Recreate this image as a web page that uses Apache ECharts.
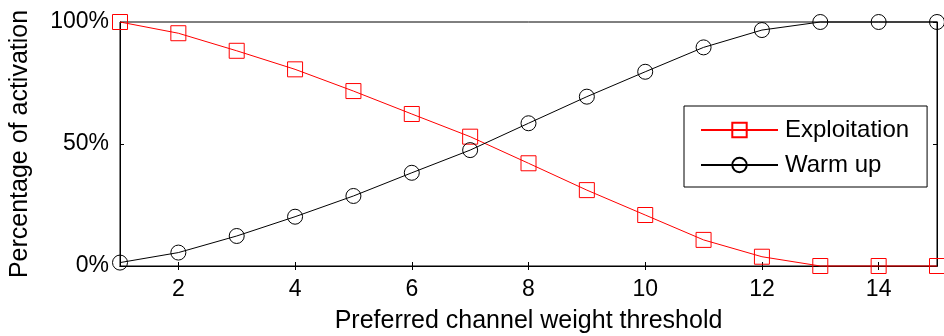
<!DOCTYPE html>
<html>
<head>
<meta charset="utf-8">
<script src="https://cdn.jsdelivr.net/npm/echarts@6/dist/echarts.min.js"></script>
<style>
  html, body { margin: 0; padding: 0; background: #fff; }
  #chart { width: 944px; height: 336px; }
</style>
</head>
<body>
<div id="chart"></div>
<script>
// Channel weight thresholds on the x axis
const thresholds = [1, 2, 3, 4, 5, 6, 7, 8, 9, 10, 11, 12, 13, 14, 15];
// Share of activations (%) per threshold
const exploitation = [100, 95.4, 88.2, 80.6, 71.7, 62.3, 53, 42.1, 31.1, 20.9, 10.7, 3.8, 0, 0, 0];
const warmUp = [1.4, 5.5, 12.3, 20.2, 28.7, 38.2, 47.5, 58.5, 69.4, 79.6, 89.6, 96.7, 100, 100, 100];
const seriesNames = ['Exploitation', 'Warm up'];
const xTicks = [2, 4, 6, 8, 10, 12, 14];
const yTicks = [0, 50, 100];

const FONT = 'Liberation Sans, Arial, Helvetica, sans-serif';

const pairs = arr => thresholds.map((x, i) => [x, arr[i]]);

const chart = echarts.init(document.getElementById('chart'), null, { renderer: 'canvas' });

const tickStyle = { show: true, inside: true, length: 4, lineStyle: { color: '#000', width: 1 } };

chart.setOption({
  animation: false,
  backgroundColor: '#fff',
  grid: {
    left: 120, right: 7, top: 22, bottom: 70,
    outerBoundsMode: 'none',
    show: true, borderColor: '#000', borderWidth: 1, backgroundColor: 'transparent'
  },
  legend: {
    orient: 'vertical',
    left: 684, top: 106,
    padding: [12, 18, 10, 16],
    itemWidth: 77, itemHeight: 18, itemGap: 11,
    borderColor: '#000', borderWidth: 1,
    backgroundColor: '#fff',
    textStyle: { fontFamily: FONT, fontSize: 24, color: '#000', padding: [0, 0, 0, 2] },
    data: seriesNames
  },
  xAxis: [{
    type: 'value', min: 1, max: 15,
    name: 'Preferred channel weight threshold',
    nameLocation: 'middle', nameGap: 43,
    nameTextStyle: { fontFamily: FONT, fontSize: 25, color: '#000' },
    axisLine: { show: true, lineStyle: { color: '#000' } },
    axisLabel: {
      fontFamily: FONT, fontSize: 23, color: '#000', margin: 12,
      customValues: xTicks
    },
    axisTick: Object.assign({ customValues: xTicks }, tickStyle),
    splitLine: { show: false }
  }, {
    type: 'value', min: 1, max: 15, position: 'top',
    axisLine: { show: true, lineStyle: { color: '#000' } },
    axisTick: Object.assign({ customValues: xTicks }, tickStyle),
    axisLabel: { show: false },
    splitLine: { show: false }
  }],
  yAxis: [{
    type: 'value', min: 0, max: 100, interval: 50,
    name: 'Percentage of activation',
    nameLocation: 'middle', nameGap: 87,
    nameTextStyle: { fontFamily: FONT, fontSize: 25, color: '#000' },
    axisLine: { show: true, lineStyle: { color: '#000' } },
    axisTick: Object.assign({ customValues: yTicks }, tickStyle),
    axisLabel: {
      fontFamily: FONT, fontSize: 23, color: '#000', margin: 11,
      customValues: yTicks,
      formatter: v => v + '%'
    },
    splitLine: { show: false }
  }, {
    type: 'value', min: 0, max: 100, interval: 50, position: 'right',
    axisLine: { show: true, lineStyle: { color: '#000' } },
    axisTick: Object.assign({ customValues: yTicks }, tickStyle),
    axisLabel: { show: false },
    splitLine: { show: false }
  }],
  series: [{
    name: seriesNames[0],
    type: 'line',
    data: pairs(exploitation),
    symbol: 'rect', symbolSize: 15,
    clip: false,
    lineStyle: { color: '#ff0000', width: 1 },
    itemStyle: { color: 'rgba(255,255,255,0)', borderColor: '#ff0000', borderWidth: 1 },
    z: 3
  }, {
    name: seriesNames[1],
    type: 'line',
    data: pairs(warmUp),
    symbol: 'circle', symbolSize: 15,
    clip: false,
    lineStyle: { color: '#000', width: 1 },
    itemStyle: { color: 'rgba(255,255,255,0)', borderColor: '#000', borderWidth: 1 },
    z: 3
  }]
});
</script>
</body>
</html>
